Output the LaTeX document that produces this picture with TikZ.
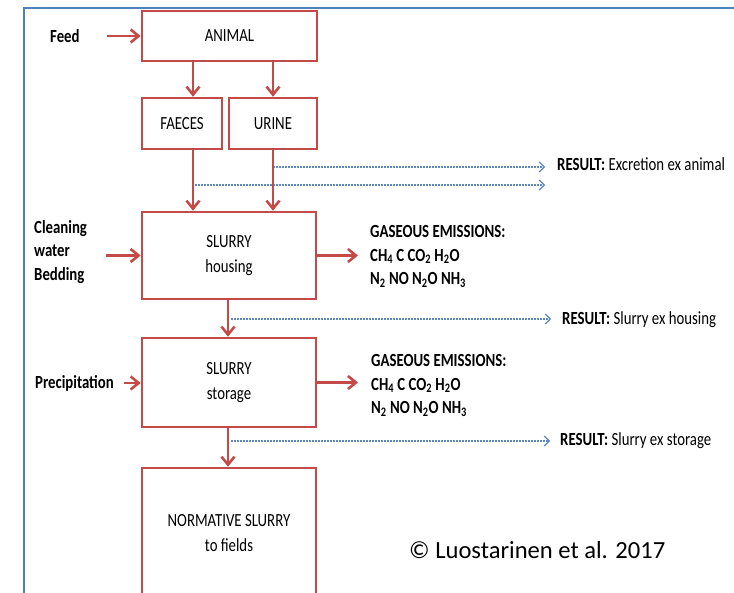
\documentclass[tikz,border=0pt]{standalone}
\usepackage{fontspec}
\setmainfont{Carlito}
\newfontfamily\dfont[FakeStretch=0.8]{Carlito}
\usetikzlibrary{arrows.meta}
\definecolor{boxred}{RGB}{196,74,72}
\definecolor{frameblue}{RGB}{79,129,189}
\definecolor{dotblue}{RGB}{90,135,198}
\begin{document}
\begin{tikzpicture}[x=1pt,y=-1pt,
  box/.style={draw=boxred, line width=2.6pt, fill=white, align=center, inner sep=0pt,
    font=\dfont\fontsize{18.5}{25}\selectfont},
  lbl/.style={align=left, anchor=west, inner sep=0pt, font=\dfont\fontsize{18.5}{23.5}\selectfont},
  blbl/.style={lbl, font=\dfont\bfseries\fontsize{18.5}{23.5}\selectfont},
  flow/.style={draw=boxred, line width=2.6pt, -{Straight Barb[length=8pt,width=13pt]}},
  res/.style={draw=dotblue, line width=1.2pt, dash pattern=on 2pt off 1pt,
    -{Straight Barb[length=5pt,width=10pt]}},
]
\useasboundingbox (0,0) rectangle (734,593);
\clip (0,0) rectangle (734,593);
\draw[frameblue, line width=2pt] (24,600) -- (24,8) -- (740,8);

% boxes
\node[box, minimum width=175pt, minimum height=50pt] (animal) at (229.5,36) {ANIMAL};
\node[box, minimum width=80pt, minimum height=51pt] (faeces) at (182,123.5) {FAECES};
\node[box, minimum width=88pt, minimum height=51pt] (urine) at (273,123.5) {URINE};
\node[box, minimum width=174pt, minimum height=87pt] (housing) at (229,255.5) {SLURRY\\housing};
\node[box, minimum width=174pt, minimum height=89pt] (storage) at (229,382.5) {SLURRY\\storage};
\node[box, minimum width=174pt, minimum height=130pt] (normative) at (229,533) {NORMATIVE SLURRY\\to fields};

% side labels
\node[blbl] (feed) at (50,36) {Feed};
\node[blbl] (clean) at (34,252) {Cleaning\\water\\Bedding};
\node[blbl] (precip) at (35,383) {Precipitation};
\node[blbl] (gas1) at (370,256.5) {GASEOUS EMISSIONS:\\CH\textsubscript{4} C CO\textsubscript{2} H\textsubscript{2}O\\N\textsubscript{2} NO N\textsubscript{2}O NH\textsubscript{3}};
\node[blbl] (gas2) at (371,385.5) {GASEOUS EMISSIONS:\\CH\textsubscript{4} C CO\textsubscript{2} H\textsubscript{2}O\\N\textsubscript{2} NO N\textsubscript{2}O NH\textsubscript{3}};
\node[lbl] (res1) at (557,164) {\textbf{RESULT:} Excretion ex animal};
\node[lbl] (res2) at (562,320) {\textbf{RESULT:} Slurry ex housing};
\node[lbl] (res3) at (560,441) {\textbf{RESULT:} Slurry ex storage};
\node[anchor=west, inner sep=0pt, font=\fontsize{24.6}{30}\selectfont] (copy) at (409,550) {© Luostarinen et al. 2017};

% helper coordinates
\coordinate (fx) at (193,0);
\coordinate (ux) at (273,0);
\coordinate (sx) at (228,0);
\coordinate (d1) at (273,167);
\coordinate (d2) at (195,185);
\coordinate (d2e) at (545,185);
\coordinate (d3) at (231,319);
\coordinate (d4) at (231,441);

% result (dotted) arrows
\draw[res, shorten >=12pt] (d1) -- (d1 -| res1.west);
\draw[res] (d2) -- (d2e);
\draw[res, shorten >=11pt] (d3) -- (d3 -| res2.west);
\draw[res, shorten >=10pt] (d4) -- (d4 -| res3.west);

% flows
\draw[flow] (animal.south -| fx) -- (faeces.north -| fx);
\draw[flow] (animal.south -| ux) -- (urine.north -| ux);
\draw[flow] (faeces.south -| fx) -- (housing.north -| fx);
\draw[flow] (urine.south -| ux) -- (housing.north -| ux);
\draw[flow] (housing.south -| sx) -- (storage.north -| sx);
\draw[flow] (storage.south -| sx) -- (normative.north -| sx);

\draw[flow, shorten <=27pt] (feed.east) -- (feed.east -| animal.west);
\draw[flow, shorten <=19pt] (clean.east |- housing.west) -- (housing.west);
\draw[flow, shorten <=10pt] (precip.east) -- (precip.east -| storage.west);
\draw[flow, shorten >=12pt] (housing.east) -- (housing.east -| gas1.west);
\draw[flow, shorten >=13pt] (storage.east) -- (storage.east -| gas2.west);
\end{tikzpicture}
\end{document}
